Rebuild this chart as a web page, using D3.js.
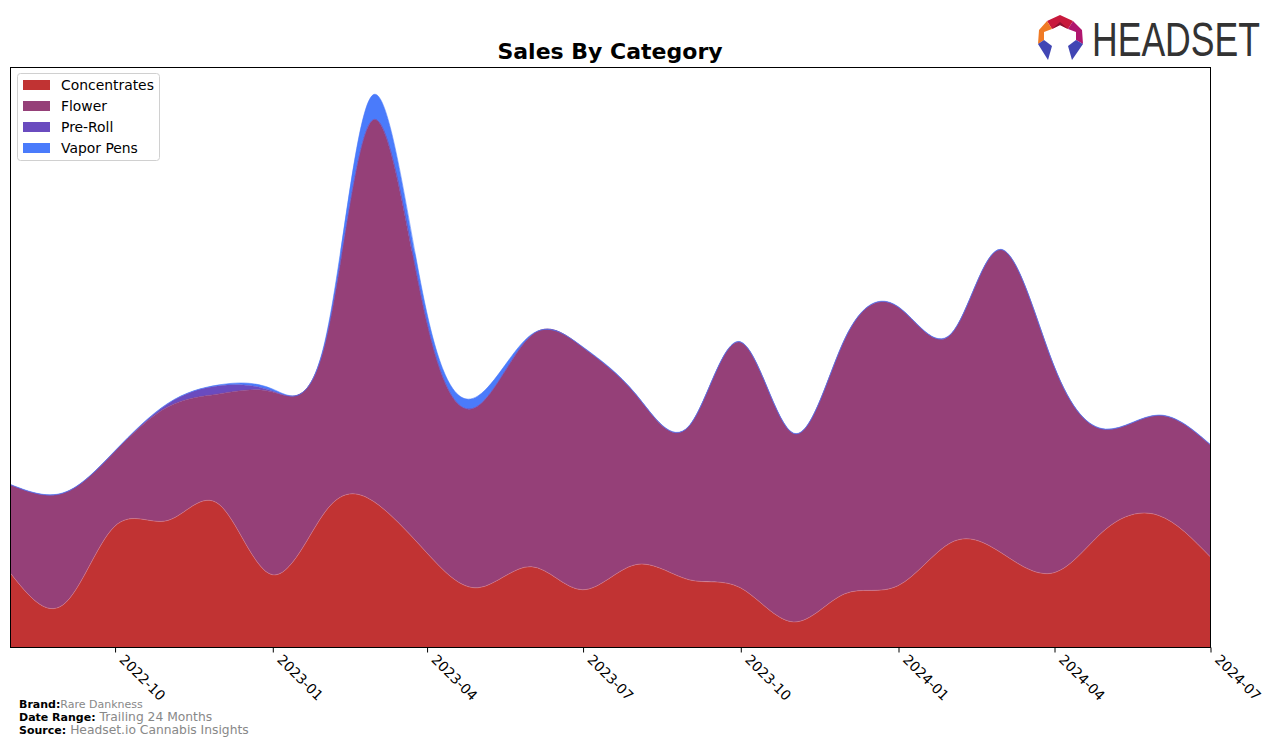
<!DOCTYPE html>
<html>
<head>
<meta charset="utf-8">
<script src="https://cdn.jsdelivr.net/npm/d3@7"></script>
<style>
  html, body { margin: 0; padding: 0; background: #fff; }
  svg { display: block; font-family: "DejaVu Sans", sans-serif; }
</style>
</head>
<body>
<svg id="chart" width="1276" height="746"></svg>
<script>
// ---- data (monthly) ----
const months = ["2022-08","2022-09","2022-10","2022-11","2022-12","2023-01","2023-02","2023-03",
  "2023-04","2023-05","2023-06","2023-07","2023-08","2023-09","2023-10","2023-11","2023-12",
  "2024-01","2024-02","2024-03","2024-04","2024-05","2024-06","2024-07"];
const categories = ["Concentrates","Flower","Pre-Roll","Vapor Pens"];
const concentrates = [74,42,120,126,142,72,135,145,94,59,80,57,82,67,59,25,53,61,104,94,74,117,131,90];
const flower = [87.5,111,74.5,113,110,182,168,380,230,181,230,241.5,169.5,152.5,244.5,187.5,253.5,277.5,207.5,301.5,205.5,99.5,99.5,111.5];
const preRoll = [0,0,0,3,8,1,0.3,0,0,0,0,0,0,0,0,0,0,0,0,0,0,0,0,0];
const vaporPens = [0.5,0.5,0.5,0.5,1,2,3,25,10,10,1,0.5,0.5,0.5,0.5,0.5,0.5,0.5,0.5,0.5,0.5,0.5,0.5,0.5];
const tickLabels = ["2022-10","2023-01","2023-04","2023-07","2023-10","2024-01","2024-04","2024-07"];
const colors = ["#c13333","#954078","#6a4bbf","#4a7bfb"];

// ---- layout ----
const svg = d3.select("#chart");
const L = 10, R = 1210, T = 67, B = 647;
const parse = d3.timeParse("%Y-%m");

const table = months.map((m, i) => ({
  date: parse(m),
  "Concentrates": concentrates[i],
  "Flower": flower[i],
  "Pre-Roll": preRoll[i],
  "Vapor Pens": vaporPens[i]
}));

const series = d3.stack().keys(categories)(table);
const maxTotal = d3.max(series[series.length - 1], d => d[1]);

const x = d3.scaleTime().domain([parse(months[0]), parse(months[months.length - 1])]).range([L, R]);
const y = d3.scaleLinear().domain([0, maxTotal * 1.05]).range([B, T]);

const area = d3.area()
  .x(d => x(d.data.date))
  .y0(d => y(d[0]))
  .y1(d => y(d[1]))
  .curve(d3.curveNatural);
const topLine = d3.line()
  .x(d => x(d.data.date))
  .y(d => y(d[1]))
  .curve(d3.curveNatural);

svg.append("defs").append("clipPath").attr("id", "plotclip")
  .append("rect").attr("x", L).attr("y", T).attr("width", R - L).attr("height", B - T);

const g = svg.append("g").attr("clip-path", "url(#plotclip)");
series.forEach((s, i) => {
  g.append("path").datum(s).attr("d", area).attr("fill", colors[i]);
});
series.forEach((s, i) => {
  g.append("path").datum(s).attr("d", topLine).attr("fill", "none")
    .attr("stroke", i === 0 ? "#d77a88" : colors[i]).attr("stroke-width", 0.8).attr("stroke-opacity", 0.7);
});

// frame
svg.append("rect").attr("x", L + 0.5).attr("y", T + 0.5).attr("width", R - L).attr("height", B - T)
  .attr("fill", "none").attr("stroke", "#000").attr("stroke-width", 1);

// x axis
const xAxis = d3.axisBottom(x)
  .tickValues(tickLabels.map(parse))
  .tickSize(5)
  .tickFormat(d3.timeFormat("%Y-%m"));
const ax = svg.append("g").attr("transform", `translate(0.5,${B + 0.5})`).call(xAxis);
ax.select(".domain").remove();
ax.selectAll(".tick line").attr("stroke", "#000");
ax.selectAll(".tick text")
  .attr("font-family", "DejaVu Sans, sans-serif")
  .attr("font-size", "13.9px")
  .attr("fill", "#000")
  .attr("text-anchor", "start")
  .attr("dy", null)
  .attr("y", 0)
  .attr("transform", "translate(3,13) rotate(45)");

// title
svg.append("text").attr("x", (L + R) / 2).attr("y", 59).attr("text-anchor", "middle")
  .attr("font-weight", "bold").attr("font-size", "22px").attr("fill", "#000")
  .text("Sales By Category");

// legend
const lg = svg.append("g");
lg.append("rect").attr("x", 17.5).attr("y", 73.5).attr("width", 142).attr("height", 87)
  .attr("rx", 3).attr("fill", "#fff").attr("fill-opacity", 0.8).attr("stroke", "#d0d0d0");
categories.forEach((c, i) => {
  const yy = 85 + i * 21;
  lg.append("rect").attr("x", 23).attr("y", yy - 5).attr("width", 27).attr("height", 10).attr("fill", colors[i]);
  lg.append("text").attr("x", 61).attr("y", yy + 5).attr("font-size", "13.9px").attr("fill", "#000").text(c);
});

// footer
const foot = [
  ["Brand:", "Rare Dankness", 708, "11px"],
  ["Date Range:", "Trailing 24 Months", 721, "12.3px"],
  ["Source:", "Headset.io Cannabis Insights", 734, "12.3px"]
];
foot.forEach(f => {
  const t = svg.append("text").attr("x", 19).attr("y", f[2]).attr("font-size", "11px");
  t.append("tspan").attr("font-weight", "bold").attr("fill", "#000").text(f[0]);
  t.append("tspan").attr("fill", "#888").attr("font-size", f[3]).attr("dx", f[3] === "11px" ? 0 : 4).text(f[1]);
});

// HEADSET logo
const logo = svg.append("g");
const poly = (pts, fill) => logo.append("polygon").attr("points", pts.map(p => p.join(",")).join(" ")).attr("fill", fill);
poly([[1060,15],[1073,21],[1068,29],[1060,25],[1052,29],[1047,21]], "#c8193c");
poly([[1073,21],[1082,30],[1083,44],[1076,40],[1076,32],[1068,29]], "#b0166e");
poly([[1047,21],[1052,29],[1044,32],[1044,40],[1038,44],[1039,30]], "#f07a24");
poly([[1038,44],[1044,40],[1052,46],[1048,60]], "#4146b4");
poly([[1083,44],[1076,40],[1068,46],[1072,60]], "#4146b4");
poly([[1052,29],[1060,25],[1068,29],[1060,22]], "#8c1230");
const logoText = logo.append("text")
  .attr("font-family", "Liberation Sans, sans-serif")
  .attr("font-size", "49px").attr("fill", "#333")
  .text("HEADSET");
const tl = logoText.node().getComputedTextLength() || 231;
logoText.attr("transform", `translate(1092,56) scale(${168 / tl},1)`);
</script>
</body>
</html>
